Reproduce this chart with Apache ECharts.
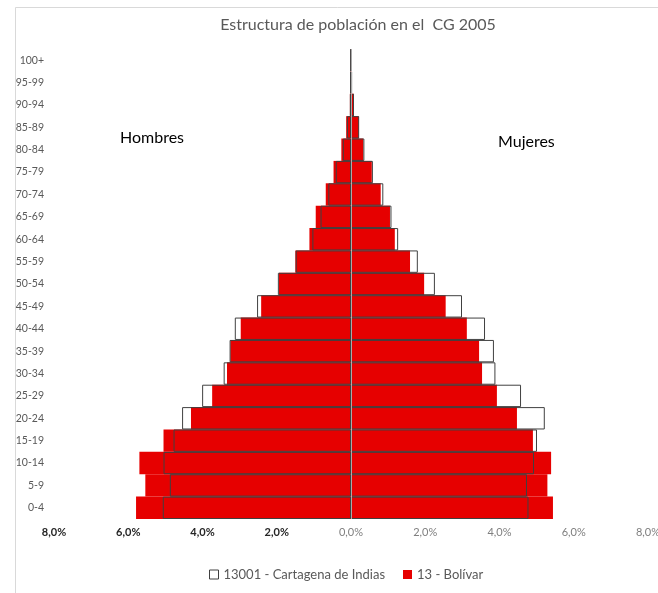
<!DOCTYPE html>
<html>
<head>
<meta charset="utf-8">
<script src="https://cdn.jsdelivr.net/npm/echarts@6/dist/echarts.min.js"></script>
<style>html,body{margin:0;padding:0;background:#fff;}#c{width:658px;height:593px;}</style>
</head>
<body>
<div id="c"></div>
<script>
var ages = ['0-4','5-9','10-14','15-19','20-24','25-29','30-34','35-39','40-44','45-49','50-54','55-59','60-64','65-69','70-74','75-79','80-84','85-89','90-94','95-99','100+'];
var bolivarHombres = [5.79,5.54,5.70,5.05,4.31,3.74,3.34,3.25,2.97,2.42,1.94,1.50,1.12,0.95,0.68,0.47,0.26,0.13,0.03,0.01,0.005];
var bolivarMujeres = [5.44,5.29,5.39,4.90,4.47,3.93,3.53,3.45,3.12,2.55,1.97,1.59,1.18,1.05,0.80,0.56,0.33,0.21,0.08,0.02,0.01];
var cartHombres = [5.07,4.88,5.05,4.78,4.55,4.01,3.43,3.27,3.13,2.53,1.97,1.49,1.04,0.82,0.61,0.41,0.22,0.11,0.03,0.02,0.01];
var cartMujeres = [4.78,4.74,4.93,5.01,5.22,4.58,3.89,3.85,3.61,2.99,2.26,1.80,1.27,1.09,0.87,0.59,0.36,0.22,0.08,0.03,0.02];
var nameCart = '13001 - Cartagena de Indias';
var nameBol = '13 - Bolívar';

function neg(a){ return a.map(function(v){ return -v; }); }
var FONT = 'Lato, "Open Sans", sans-serif';
var chart = echarts.init(document.getElementById('c'));
var redStyle = {color:'#E60000'};
var cartStyle = {color:'rgba(255,255,255,0)', borderColor:'#404040', borderWidth:1};
chart.setOption({
  animation:false,
  backgroundColor:'#fff',
  title:{text:'Estructura de población en el  CG 2005', left:353, textAlign:'center', top:12,
    textStyle:{fontFamily:FONT, fontSize:16, fontWeight:'normal', color:'#595959'}},
  legend:{left:204, top:563, itemWidth:9, itemHeight:9, itemGap:18,
    textStyle:{fontFamily:FONT, fontSize:13, color:'#595959'},
    data:[{name:nameCart, icon:'rect', itemStyle:{color:'#fff', borderColor:'#404040', borderWidth:1}},
          {name:nameBol, icon:'rect', itemStyle:{color:'#E60000'}}]},
  grid:{left:54, right:10, top:49, bottom:74, outerBoundsMode:'none', containLabel:false},
  xAxis:{type:'value', min:-8, max:8, interval:2,
    axisLine:{show:false}, axisTick:{show:false}, splitLine:{show:false},
    axisLabel:{margin:8, showMaxLabel:true, showMinLabel:true, hideOverlap:false,
      formatter:function(v){ var s=Math.abs(v).toFixed(1).replace('.',',')+'%'; return v<0?'{n|'+s+'}':'{p|'+s+'}'; },
      rich:{n:{fontFamily:FONT, fontSize:11, fontWeight:'bold', color:'#262626'},
            p:{fontFamily:FONT, fontSize:11, color:'#7F7F7F'}}}},
  yAxis:{type:'category', data:ages,
    axisLine:{show:false}, axisTick:{show:false}, splitLine:{show:false},
    axisLabel:{margin:10, fontFamily:FONT, fontSize:10.5, color:'#595959'}},
  series:[
    {name:nameBol, type:'bar', data:neg(bolivarHombres), barGap:'-100%', barCategoryGap:'0%', itemStyle:redStyle},
    {name:nameBol, type:'bar', data:bolivarMujeres, barGap:'-100%', barCategoryGap:'0%', itemStyle:redStyle},
    {name:nameCart, type:'bar', data:neg(cartHombres), barGap:'-100%', barCategoryGap:'0%', itemStyle:cartStyle},
    {name:nameCart, type:'bar', data:cartMujeres, barGap:'-100%', barCategoryGap:'0%', itemStyle:cartStyle,
      markLine:{silent:true, symbol:'none', label:{show:false},
        lineStyle:{color:'rgba(255,255,255,0.55)', width:1, type:'solid'},
        data:[{xAxis:0}]}}
  ],
  graphic:[
    {type:'rect', shape:{x:15.5, y:7.5, width:700, height:700}, style:{fill:'none', stroke:'#D9D9D9', lineWidth:1}, silent:true},
    {type:'text', left:120, top:130, style:{text:'Hombres', font:'16px '+FONT, fill:'#000'}},
    {type:'text', left:498, top:134, style:{text:'Mujeres', font:'16px '+FONT, fill:'#000'}}
  ]
});
</script>
</body>
</html>
